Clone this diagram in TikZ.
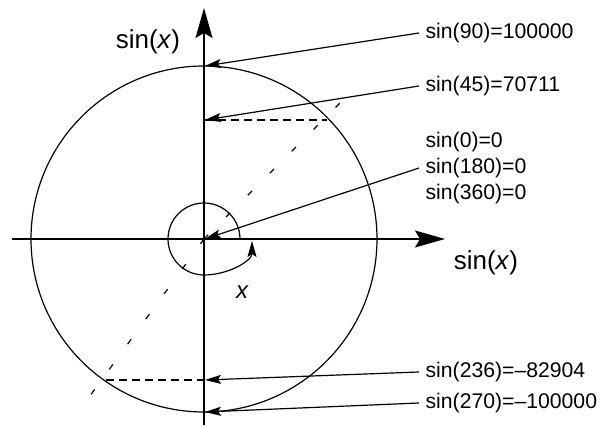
\documentclass[tikz,border=0pt]{standalone}
\usepackage{fontspec}
\setmainfont{Liberation Sans}
\usetikzlibrary{arrows.meta}

\begin{document}
\begin{tikzpicture}[x=0.5pt, y=-0.5pt, line width=0.6pt,
  every node/.style={font=\fontsize{10.6}{13}\selectfont},
  axis/.style={line width=0.75pt, -{Stealth[length=15pt,width=8.5pt,inset=2.5pt]}},
  pointer/.style={-{Stealth[length=8pt,width=4.5pt,inset=1.5pt]}},
  guide/.style={dash pattern=on 4pt off 2.5pt},
  ray/.style={dash pattern=on 3pt off 12.5pt},
  value/.style={anchor=west, align=left, inner xsep=3pt, inner ysep=0pt},
  axislabel/.style={font=\fontsize{13}{15}\selectfont, inner sep=0pt}]
\useasboundingbox (0,0) rectangle (607,426);

% axes
\coordinate (o) at (204,239);
\coordinate (xa) at (12,239);
\coordinate (xb) at (445,239);
\coordinate (ya) at (204,425);
\coordinate (yb) at (204,8);
\draw[axis] (xa) -- (xb);
\draw[axis] (ya) -- (yb);
\node[axislabel] (ylab) at (148,42) {sin(\textit{x})};
\node[axislabel] (xlab) at (486,263) {sin(\textit{x})};

% unit circle and angle
\draw (o) circle[radius=173];
\draw[pointer] ([shift={(36,0)}]o) arc[start angle=0, end angle=-270, radius=36]
  .. controls +(24,0) and +(0,20) .. (252,241);
\node[axislabel, font=\fontsize{12}{14}\selectfont\itshape] (ang) at (242,292) {x};

% rays at 45 and 236 degrees
\draw[ray] (o) -- ++(-45:192);
\draw[ray] (o) -- ++(126:196);

% points on the axis
\coordinate (p90) at (205,66);
\coordinate (p45) at (205,120);
\coordinate (p0) at (205,239);
\coordinate (p236) at (205,380);
\coordinate (p270) at (205,412);
\coordinate (q45) at (327,120);
\coordinate (q236) at (104,380);
\draw[guide] (p45) -- (q45);
\draw[guide] (p236) -- (q236);

% values
\node[value] (l90) at (419,33) {sin(90)=100000};
\node[value] (l45) at (419,86) {sin(45)=70711};
\node[value] (l0) at (419,168) {sin(0)=0\\sin(180)=0\\sin(360)=0};
\node[value] (l236) at (419,372) {sin(236)=--82904};
\node[value] (l270) at (419,403) {sin(270)=--100000};

\draw[pointer] (l90.west) -- (p90);
\draw[pointer] (l45.west) -- (p45);
\draw[pointer] (l0.west) -- (p0);
\draw[pointer] (l236.west) -- (p236);
\draw[pointer] (l270.west) -- (p270);
\end{tikzpicture}
\end{document}
